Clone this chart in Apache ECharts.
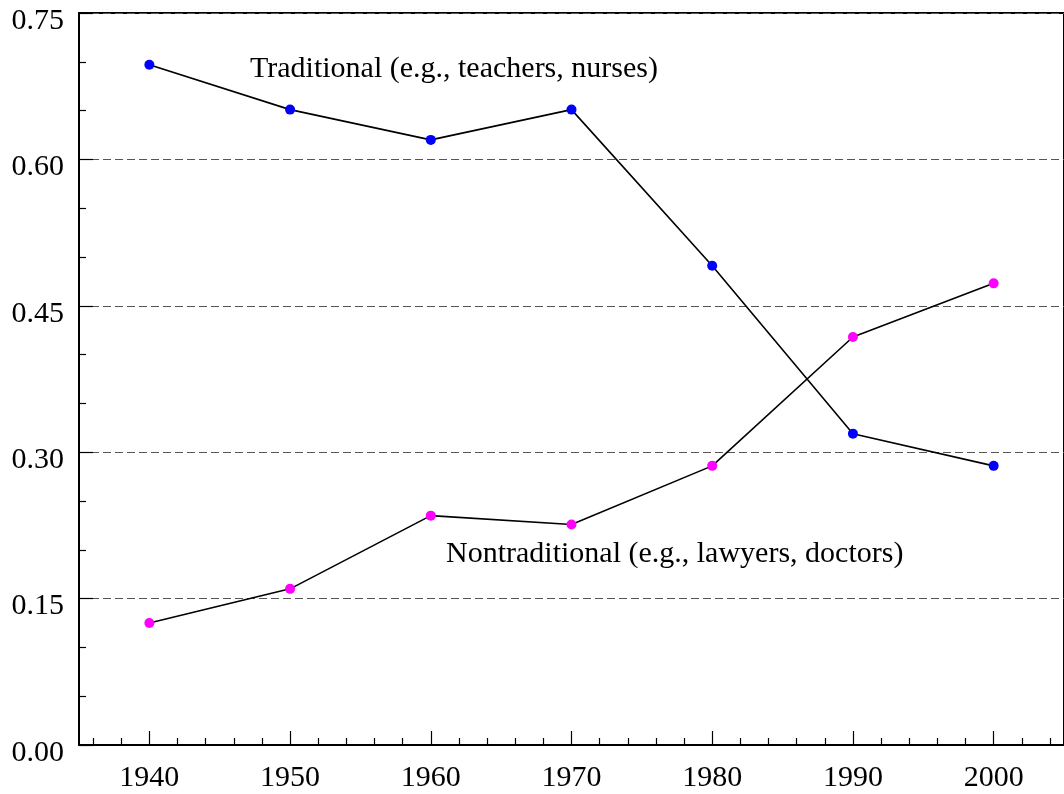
<!DOCTYPE html>
<html>
<head>
<meta charset="utf-8">
<script src="https://cdn.jsdelivr.net/npm/echarts@6/dist/echarts.min.js"></script>
<style>
html,body{margin:0;padding:0;background:#fff;}
#chart{width:1064px;height:794px;}
</style>
</head>
<body>
<div id="chart"></div>
<script>
// ---- data ----
const years = [1940, 1950, 1960, 1970, 1980, 1990, 2000];
const traditional = [0.697, 0.651, 0.620, 0.651, 0.491, 0.319, 0.286];
const nontraditional = [0.125, 0.160, 0.235, 0.226, 0.286, 0.418, 0.473];
const xMajorTicks = [1940, 1950, 1960, 1970, 1980, 1990, 2000];
const xMinorTicks = [1936, 1938, 1942, 1944, 1946, 1948, 1952, 1954, 1956, 1958,
  1962, 1964, 1966, 1968, 1972, 1974, 1976, 1978, 1982, 1984, 1986, 1988,
  1992, 1994, 1996, 1998, 2002, 2004];
const labelTraditional = 'Traditional (e.g., teachers, nurses)';
const labelNontraditional = 'Nontraditional (e.g., lawyers, doctors)';

const FONT = "'Liberation Serif', 'Times New Roman', serif";
const chart = echarts.init(document.getElementById('chart'), null, {renderer: 'canvas'});

const toPairs = (vals) => years.map((y, i) => [y, vals[i]]);

const option = {
  backgroundColor: '#fff',
  animation: false,
  grid: {
    left: 79, top: 13, right: -9, bottom: 49,
    show: true, borderColor: '#000', borderWidth: 2, backgroundColor: 'transparent'
  },
  xAxis: [{
    type: 'value', min: 1935, max: 2005,
    axisLine: {show: true, onZero: false, lineStyle: {color: '#000', width: 2}},
    axisTick: {show: true, inside: true, length: 14, customValues: xMajorTicks,
      lineStyle: {color: '#000', width: 1.2}},
    axisLabel: {show: true, customValues: xMajorTicks, margin: 18,
      fontFamily: FONT, fontSize: 30, color: '#000',
      formatter: (v) => String(v)},
    splitLine: {show: false}
  }, {
    type: 'value', min: 1935, max: 2005, position: 'bottom',
    axisLine: {show: false, onZero: false},
    axisTick: {show: true, inside: true, length: 7, customValues: xMinorTicks,
      lineStyle: {color: '#000', width: 1.2}},
    axisLabel: {show: false},
    splitLine: {show: false}
  }],
  yAxis: {
    type: 'value', min: 0, max: 0.75, interval: 0.15,
    axisLine: {show: true, onZero: false, lineStyle: {color: '#000', width: 2}},
    axisTick: {show: true, inside: true, length: 14, lineStyle: {color: '#000', width: 1.2}},
    minorTick: {show: true, splitNumber: 3, length: 7, lineStyle: {color: '#000', width: 1.2}},
    axisLabel: {margin: 15, fontFamily: FONT, fontSize: 30, color: '#000',
      verticalAlign: 'top', lineHeight: 16,
      formatter: (v) => v.toFixed(2)},
    splitLine: {show: true, lineStyle: {color: '#555', width: 1, type: [8, 4]}}
  },
  series: [{
    name: 'Traditional', type: 'line', xAxisIndex: 0, data: toPairs(traditional),
    symbol: 'circle', symbolSize: 10,
    lineStyle: {color: '#000', width: 1.6},
    itemStyle: {color: '#0000ff'},
    z: 3
  }, {
    name: 'Nontraditional', type: 'line', xAxisIndex: 0, data: toPairs(nontraditional),
    symbol: 'circle', symbolSize: 10,
    lineStyle: {color: '#000', width: 1.6},
    itemStyle: {color: '#ff00ff'},
    z: 3
  }],
  graphic: [{
    type: 'text', left: 250, top: 54,
    style: {text: labelTraditional, fontFamily: FONT, fontSize: 30, fill: '#000'}
  }, {
    type: 'text', left: 446, top: 539,
    style: {text: labelNontraditional, fontFamily: FONT, fontSize: 30, fill: '#000'}
  }]
};
chart.setOption(option);
</script>
</body>
</html>
